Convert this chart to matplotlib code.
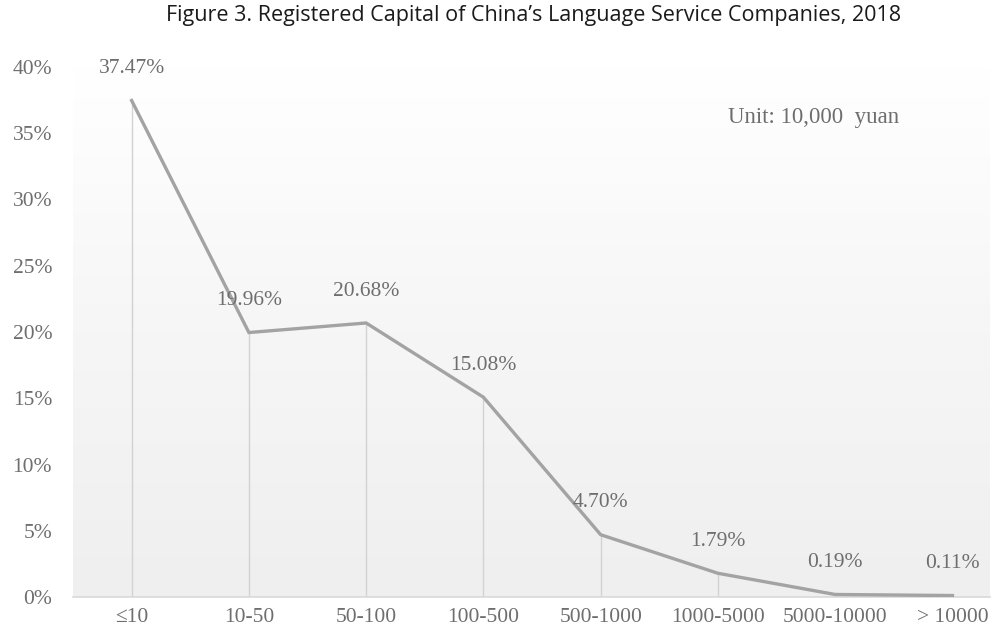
import matplotlib
matplotlib.use("Agg")
import matplotlib.pyplot as plt
import numpy as np
from matplotlib.colors import LinearSegmentedColormap

categories = ["≤10", "10-50", "50-100", "100-500", "500-1000", "1000-5000", "5000-10000", "> 10000"]
values = [37.47, 19.96, 20.68, 15.08, 4.70, 1.79, 0.19, 0.11]
labels = ["37.47%", "19.96%", "20.68%", "15.08%", "4.70%", "1.79%", "0.19%", "0.11%"]
yticks = [0, 5, 10, 15, 20, 25, 30, 35, 40]
ytick_labels = ["0%", "5%", "10%", "15%", "20%", "25%", "30%", "35%", "40%"]

serif = ["Liberation Serif", "DejaVu Serif"]
gray_txt = "#6e6e6e"
fs = 15.5

fig = plt.figure(figsize=(9.93, 6.33), dpi=100)
W, H = 993, 633
ax = fig.add_axes([73 / W, (H - 597) / H, (990 - 73) / W, (597 - 67) / H])

x = np.arange(len(categories))
ax.set_xlim(-0.5, 7.32)
ax.set_ylim(0, 40)

# background gradient
grad = np.linspace(0, 1, 256).reshape(-1, 1)
cmap = LinearSegmentedColormap.from_list("bg", ["#efefef", "#f6f6f6", "#ffffff"])
ax.imshow(grad, extent=[-0.5, 7.32, 0, 40], origin="lower", aspect="auto",
          cmap=cmap, zorder=0, vmin=0, vmax=1)

# drop lines
ax.vlines(x, 0, values, colors="#d2d2d2", linewidth=1.0, zorder=1)
ax.plot(x, values, color="#a3a3a3", linewidth=2.4, zorder=3, solid_joinstyle="miter")

for xi, v, lab in zip(x, values, labels):
    ax.annotate(lab, (xi, v), xytext=(0, 23), textcoords="offset points",
                ha="center", va="center", fontsize=fs, family=serif, color=gray_txt,
                zorder=4)

ax.set_xticks(x)
ax.set_xticklabels(categories, family=serif, fontsize=fs, color=gray_txt)
ax.set_yticks(yticks)
ax.set_yticklabels(ytick_labels, family=serif, fontsize=fs, color=gray_txt)
ax.tick_params(axis="both", length=0)
ax.tick_params(axis="y", pad=15)
ax.tick_params(axis="x", pad=8)
for s in ["top", "right", "left"]:
    ax.spines[s].set_visible(False)
ax.spines["bottom"].set_color("#d9d9d9")
ax.spines["bottom"].set_linewidth(1.2)

ax.text(814 / W, (H - 118) / H, "Unit: 10,000  yuan", transform=fig.transFigure,
        ha="center", va="center", fontsize=16.5, family=serif, color=gray_txt)

fig.text(534 / W, 1 - 16 / H, "Figure 3. Registered Capital of China\u2019s Language Service Companies, 2018",
         ha="center", va="center", fontsize=15.5, family=["Open Sans", "DejaVu Sans"], color="#1a1a1a")

fig.savefig("out.png", dpi=100)
